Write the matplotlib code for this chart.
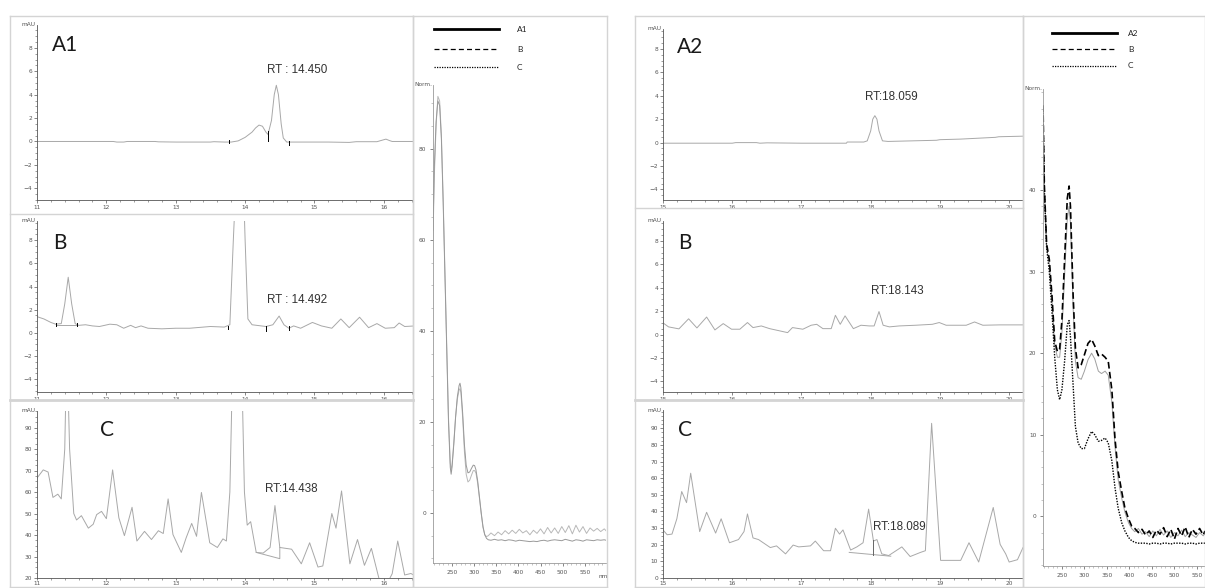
import matplotlib
matplotlib.use("Agg")
import matplotlib.pyplot as plt
from matplotlib.lines import Line2D
from matplotlib.ticker import MultipleLocator, FixedLocator

# ---------------- data ----------------
# Left group chromatograms (time [min], signal [mAU])
a1_t = [11.0, 12.1, 12.15, 12.25, 12.3, 12.7, 12.75, 13.0, 13.5, 13.55, 13.7, 13.8, 13.9, 14.0, 14.1, 14.15,
        14.2, 14.25, 14.3, 14.33, 14.38, 14.42, 14.45, 14.48, 14.52, 14.55, 14.6, 15.2, 15.5, 15.6, 15.9,
        15.97, 16.03, 16.08, 16.12, 16.45]
a1_v = [0.0, 0.0, -0.05, -0.05, 0.0, 0.0, -0.03, -0.05, -0.05, -0.02, -0.05, -0.05, 0.05, 0.35, 0.8, 1.15,
        1.4, 1.3, 0.8, 0.6, 1.8, 4.0, 4.8, 4.0, 1.5, 0.3, -0.05, -0.05, -0.08, -0.02, -0.02,
        0.1, 0.2, 0.08, 0.0, 0.0]

bL_t = [11.0, 11.1, 11.2, 11.27, 11.35, 11.4, 11.45, 11.5, 11.55, 11.6, 11.7, 11.8, 11.9, 12.05, 12.15, 12.25,
        12.35, 12.42, 12.5, 12.6, 12.8, 13.0, 13.2, 13.5, 13.7, 13.78, 13.83, 13.86, 13.98, 14.0, 14.04, 14.1,
        14.3, 14.4, 14.49, 14.56, 14.63, 14.7, 14.8, 14.97, 15.1, 15.25, 15.38, 15.5, 15.65, 15.78, 15.9,
        16.02, 16.15, 16.22, 16.3, 16.45]
bL_v = [1.4, 1.2, 0.9, 0.75, 0.8, 2.5, 4.8, 2.5, 0.8, 0.65, 0.7, 0.6, 0.55, 0.75, 0.7, 0.4,
        0.65, 0.45, 0.6, 0.4, 0.35, 0.4, 0.4, 0.55, 0.5, 0.7, 8.0, 12.0, 12.0, 8.0, 1.2, 0.7,
        0.55, 0.7, 1.45, 0.7, 0.4, 0.6, 0.4, 0.9, 0.6, 0.4, 1.2, 0.45, 1.35, 0.45, 0.8,
        0.4, 0.45, 0.85, 0.55, 0.6]

cL_t = [11.0, 11.09, 11.16, 11.23, 11.3, 11.35, 11.4, 11.43, 11.47, 11.53, 11.57, 11.64, 11.74, 11.81, 11.86,
        11.93, 12.0, 12.09, 12.18, 12.26, 12.37, 12.44, 12.55, 12.65, 12.75, 12.82, 12.89, 12.96, 13.08, 13.15,
        13.23, 13.3, 13.37, 13.49, 13.6, 13.68, 13.73, 13.78, 13.82, 13.95, 13.99, 14.03, 14.08, 14.16, 14.26,
        14.36, 14.43, 14.5, 14.67, 14.81, 14.93, 15.05, 15.12, 15.25, 15.31, 15.39, 15.51, 15.62, 15.72, 15.82,
        15.94, 16.04, 16.12, 16.2, 16.3, 16.39, 16.45]
cL_v = [66.5, 70.3, 69.3, 57.5, 59.0, 56.8, 80.0, 130.0, 80.0, 50.0, 47.0, 49.0, 43.2, 45.0, 49.5,
        51.0, 47.6, 70.3, 48.0, 39.7, 52.9, 37.2, 41.7, 37.9, 42.0, 40.7, 56.8, 40.2, 31.9, 38.7,
        45.4, 39.4, 59.8, 36.4, 34.2, 38.2, 37.2, 60.0, 120.0, 120.0, 60.0, 44.6, 46.2, 31.9, 31.6,
        34.2, 53.7, 34.2, 33.4, 26.6, 36.4, 25.1, 25.6, 50.0, 43.2, 60.5, 26.6, 37.9, 25.9, 33.8,
        18.4, 17.0, 22.0, 37.2, 21.4, 22.1, 21.0]

# Right group chromatograms
a2_t = [15.0, 16.0, 16.05, 16.35, 16.4, 16.5, 17.0, 17.65, 17.66, 17.9, 17.95, 18.0, 18.03, 18.06, 18.09,
        18.12, 18.17, 18.25, 18.6, 18.95, 19.0, 19.3, 19.8, 19.85, 20.2]
a2_v = [-0.05, -0.05, 0.0, 0.0, -0.05, -0.02, -0.05, -0.05, 0.05, 0.05, 0.15, 1.0, 2.0, 2.3, 2.0,
        1.0, 0.15, 0.1, 0.15, 0.2, 0.25, 0.3, 0.45, 0.5, 0.55]

bR_t = [15.0, 15.08, 15.23, 15.37, 15.49, 15.63, 15.75, 15.87, 15.99, 16.11, 16.22, 16.3, 16.42, 16.54, 16.8,
        16.87, 17.02, 17.14, 17.22, 17.31, 17.43, 17.49, 17.56, 17.63, 17.75, 17.86, 17.98, 18.05, 18.12,
        18.18, 18.27, 18.41, 18.65, 18.89, 18.99, 19.09, 19.38, 19.5, 19.62, 19.86, 20.2]
bR_v = [1.0, 0.66, 0.49, 1.35, 0.57, 1.5, 0.4, 0.94, 0.46, 0.46, 1.03, 0.6, 0.74, 0.51, 0.17,
        0.6, 0.46, 0.8, 0.88, 0.51, 0.51, 1.65, 0.88, 1.6, 0.51, 0.8, 0.74, 0.74, 1.97,
        0.8, 0.66, 0.74, 0.8, 0.88, 1.03, 0.8, 0.8, 1.08, 0.8, 0.83, 0.83]

cR_t = [15.0, 15.06, 15.13, 15.2, 15.27, 15.34, 15.4, 15.53, 15.63, 15.76, 15.84, 15.96, 16.09, 16.17, 16.22,
        16.3, 16.38, 16.55, 16.64, 16.77, 16.88, 16.96, 17.13, 17.2, 17.32, 17.42, 17.49, 17.55, 17.6, 17.71,
        17.8, 17.89, 17.97, 18.04, 18.09, 18.16, 18.26, 18.45, 18.57, 18.72, 18.79, 18.88, 19.01, 19.3, 19.42,
        19.56, 19.77, 19.87, 19.95, 20.0, 20.12, 20.2]
cR_v = [28.9, 26.0, 26.4, 35.6, 52.0, 45.3, 63.0, 27.9, 39.5, 27.0, 35.6, 21.2, 23.1, 27.9, 38.5,
        24.1, 23.1, 18.3, 19.3, 14.5, 19.8, 18.7, 19.3, 22.2, 16.4, 16.4, 29.9, 26.4, 28.9, 16.8,
        18.7, 21.2, 41.4, 22.2, 23.1, 14.5, 13.5, 18.7, 12.9, 15.4, 16.4, 93.0, 10.6, 10.6, 21.2,
        9.6, 42.4, 20.2, 14.5, 9.6, 11.0, 18.3]

# integration marks (time, y0, y1)
a1_marks = [(13.77, -0.15, 0.15), (14.33, 0.0, 0.9), (14.63, -0.3, 0.0)]
bL_marks = [(11.27, 0.55, 0.85), (11.57, 0.55, 0.85), (13.75, 0.35, 0.6), (14.3, 0.2, 0.55), (14.63, 0.25, 0.55)]
cL_base = ([14.16, 14.5, 14.5], [31.9, 29.0, 34.2])
cR_base = ([17.69, 18.29], [15.4, 13.1])
cR_drop = (18.04, 14.0, 23.0)

# Spectra (wavelength nm, normalised absorbance)
spL_wl = [207, 210, 214, 218, 222, 226, 230, 234, 238, 242, 246, 248, 250, 254, 258, 262, 266, 268, 270, 274,
          278, 282, 286, 290, 294, 298, 301, 304, 308, 312, 316, 320, 324, 328, 332, 338, 346, 354, 362, 370,
          378, 386, 394, 402, 410, 418, 426, 434, 442, 450, 458, 466, 474, 482, 490, 498, 506, 514, 522, 530,
          538, 546, 554, 562, 570, 578, 586, 594, 598]
spL_a1 = [62, 76, 86, 90.5, 89.5, 82, 68, 52, 36, 20, 10, 8.5, 10, 15, 21, 25.5, 28, 28.5, 27.5, 22,
          15, 10.5, 8.8, 9, 9.8, 10.5, 10.4, 9.5, 7, 3.5, 0, -3, -4.8, -5.6, -5.9, -6.0, -5.8, -6.0, -5.9, -6.1,
          -5.9, -6.0, -6.2, -6.0, -6.1, -6.2, -6.3, -6.2, -6.3, -6.1, -6.0, -6.2, -6.0, -5.9, -6.0, -6.1, -5.8, -6.0, -6.2, -5.9,
          -6.0, -6.2, -5.9, -6.0, -6.1, -5.9, -6.0, -5.9, -6.0]
spL_b = [60, 74, 85, 91.5, 90.5, 83, 69, 53, 37, 21, 11, 9.5, 10.5, 15.5, 21, 25, 27, 27.3, 26.5, 21,
         13.5, 8.5, 6.8, 7.2, 8.3, 9.3, 9.3, 8.8, 6.5, 3.2, -0.2, -3.2, -4.8, -5.2, -5.0, -4.4, -5.0, -4.2, -4.8, -3.9,
         -4.6, -3.8, -4.5, -3.6, -4.4, -3.9, -4.8, -3.8, -4.5, -3.5, -4.6, -3.2, -4.4, -3.3, -4.5, -3.0, -4.3, -2.8, -4.6, -2.7,
         -4.2, -3.0, -4.5, -3.3, -4.0, -3.4, -4.1, -3.5, -3.9]

spR_wl = [208, 211, 216, 222, 228, 234, 240, 245, 250, 256, 262, 266, 269, 275, 280, 286, 293, 300, 308, 316,
          323, 331, 338, 346, 353, 361, 368, 375, 383, 390, 398, 405, 412, 420, 428, 436, 444, 452, 460, 468,
          476, 484, 492, 500, 508, 516, 524, 532, 540, 548, 556, 564, 568]
spR_a2 = [50.0, 40.0, 33, 31, 26.5, 21, 19.5, 19.5, 22.5, 29.5, 36.5, 38.0, 36, 25.5, 19.0, 17.0, 16.8, 17.8, 19.2, 20.0,
          19.3, 17.8, 17.5, 17.8, 17.3, 14.0, 8.5, 4.5, 2.2, 0.5, -0.8, -1.5, -1.9, -1.5, -2.2, -1.9, -2.5, -1.8, -2.4, -1.6,
          -2.3, -1.8, -2.6, -2.0, -2.4, -1.7, -2.5, -2.0, -2.3, -2.6, -2.0, -2.4, -2.1]
spR_b = [50.4, 40.6, 33.4, 31.5, 27.0, 21.5, 20.2, 20.5, 24, 31.5, 39.0, 40.5, 38, 27, 20.6, 18.2, 18.6, 19.8, 21.2, 21.7,
         20.9, 19.7, 19.9, 19.5, 19.0, 15.5, 9.5, 5.5, 3.0, 1.0, -0.3, -1.2, -1.5, -2.0, -1.6, -2.3, -1.8, -2.6, -1.7, -2.2,
         -1.4, -2.5, -1.6, -2.8, -1.5, -2.4, -1.3, -2.6, -1.6, -2.2, -1.5, -2.3, -1.8]
spR_c = [49.5, 40.0, 33, 30, 25, 19.5, 15.5, 14.3, 15.5, 19.0, 23.5, 24.0, 22, 16, 11, 9.0, 8.3, 8.3, 9.5, 10.4,
         10.0, 9.2, 9.3, 9.6, 9.0, 6.8, 3.5, 1.0, -0.8, -1.8, -2.6, -3.0, -3.2, -3.3, -3.3, -3.3, -3.4, -3.3, -3.3, -3.4,
         -3.3, -3.3, -3.4, -3.3, -3.3, -3.3, -3.4, -3.3, -3.3, -3.4, -3.3, -3.3, -3.3]

rt_labels = ["RT : 14.450", "RT : 14.492", "RT:14.438", "RT:18.059", "RT:18.143", "RT:18.089"]
panel_labels = ["A1", "B", "C", "A2", "B", "C"]
legend_left = ["A1", "B", "C"]
legend_right = ["A2", "B", "C"]

# ---------------- layout helpers ----------------
W, H = 1205, 588
fig = plt.figure(figsize=(W / 100, H / 100), dpi=100)
fig.patch.set_facecolor("white")

def fx(x):
    return x / W

def fy(y):
    return 1 - y / H

def add_ax(l, t, r, b):
    return fig.add_axes([l / W, 1 - b / H, (r - l) / W, (b - t) / H])

FRAME = "#d4d4d4"
TRACE = "#a8a8a8"
AXC = "#555555"
RTSIZE = 8.4

def frame_line(x0, y0, x1, y1, lw=1.0):
    fig.add_artist(Line2D([fx(x0), fx(x1)], [fy(y0), fy(y1)], transform=fig.transFigure,
                          color=FRAME, lw=lw))

def box(l, t, r, b):
    frame_line(l, t, r, t)
    frame_line(l, b, r, b)
    frame_line(l, t, l, b)
    frame_line(r, t, r, b)

# frames
box(10, 16, 413, 587)
frame_line(10, 214, 413, 214)
frame_line(10, 400, 413, 400, lw=2)
box(413, 16, 607, 587)
box(635, 16, 1023, 587)
frame_line(635, 208, 1023, 208)
frame_line(635, 400, 1023, 400, lw=2)
box(1023, 16, 1205, 587)

def style_chrom(ax, xlim, ylim, ymajor, yminor, xmajor_vals, xpad=1.2):
    ax.set_xlim(*xlim)
    ax.set_ylim(*ylim)
    ax.patch.set_alpha(0)
    for s in ["top", "right"]:
        ax.spines[s].set_visible(False)
    for s in ["left", "bottom"]:
        ax.spines[s].set_color(AXC)
        ax.spines[s].set_linewidth(0.6)
    ax.xaxis.set_major_locator(FixedLocator(xmajor_vals))
    ax.xaxis.set_minor_locator(MultipleLocator(0.2))
    ax.yaxis.set_major_locator(FixedLocator(ymajor))
    ax.yaxis.set_minor_locator(MultipleLocator(yminor))
    ax.tick_params(which="major", length=2.2, width=0.5, labelsize=4.2, colors=AXC, pad=1.2)
    ax.tick_params(axis="x", which="major", pad=xpad)
    ax.tick_params(which="minor", length=1.3, width=0.4, colors=AXC)
    ax.set_xticklabels([f"{v:g}" for v in xmajor_vals])
    ax.text(-0.004, 1.0, "mAU", transform=ax.transAxes, ha="right", va="center", fontsize=4.2, color=AXC)

def draw_marks(ax, marks):
    for (t, y0, y1) in marks:
        ax.plot([t, t], [y0, y1], color="black", lw=0.7)

def rt_text(ax, x, y, s):
    ax.text(x, y, s, fontsize=RTSIZE, family="Liberation Sans", color="#333", va="center")

# ---------------- left chromatograms ----------------
axA1 = add_ax(37, 25, 413, 200)
axA1.plot(a1_t, a1_v, color=TRACE, lw=0.7)
draw_marks(axA1, a1_marks)
style_chrom(axA1, (11, 16.42), (-5, 9.95), [-4, -2, 0, 2, 4, 6, 8], 0.5, [11, 12, 13, 14, 15, 16])
rt_text(axA1, 14.32, 6.1, rt_labels[0])

axBL = add_ax(37, 221, 413, 392)
axBL.plot(bL_t, bL_v, color=TRACE, lw=0.7)
axBL.plot([11.27, 11.57], [0.7, 0.7], color=TRACE, lw=0.7)
draw_marks(axBL, bL_marks)
style_chrom(axBL, (11, 16.42), (-5.1, 9.65), [-4, -2, 0, 2, 4, 6, 8], 0.5, [11, 12, 13, 14, 15, 16])
rt_text(axBL, 14.32, 2.85, rt_labels[1])

axCL = add_ax(37, 411, 413, 578)
axCL.plot(cL_t, cL_v, color=TRACE, lw=0.7)
axCL.plot(cL_base[0], cL_base[1], color=TRACE, lw=0.7)
style_chrom(axCL, (11, 16.42), (20, 97.7), [20, 30, 40, 50, 60, 70, 80, 90], 2.5,
            [11, 12, 13, 14, 15, 16], xpad=0.4)
axCL.tick_params(axis="x", which="major", length=1.5)
rt_text(axCL, 14.28, 61.6, rt_labels[2])

# ---------------- right chromatograms ----------------
axA2 = add_ax(663, 29, 1023, 200)
axA2.plot(a2_t, a2_v, color=TRACE, lw=0.7)
style_chrom(axA2, (15, 20.2), (-4.9, 9.7), [-4, -2, 0, 2, 4, 6, 8], 0.5, [15, 16, 17, 18, 19, 20])
rt_text(axA2, 17.92, 3.9, rt_labels[3])

axBR = add_ax(663, 221, 1023, 392)
axBR.plot(bR_t, bR_v, color=TRACE, lw=0.7)
style_chrom(axBR, (15, 20.2), (-4.9, 9.7), [-4, -2, 0, 2, 4, 6, 8], 0.5, [15, 16, 17, 18, 19, 20])
rt_text(axBR, 18.0, 3.7, rt_labels[4])

axCR = add_ax(663, 410, 1023, 578)
axCR.plot(cR_t, cR_v, color=TRACE, lw=0.7)
axCR.plot(cR_base[0], cR_base[1], color=TRACE, lw=0.7)
axCR.plot([cR_drop[0], cR_drop[0]], [cR_drop[1], cR_drop[2]], color="#666", lw=0.7)
style_chrom(axCR, (15, 20.2), (0, 101), [0, 10, 20, 30, 40, 50, 60, 70, 80, 90], 2.5,
            [15, 16, 17, 18, 19, 20], xpad=0.4)
axCR.tick_params(axis="x", which="major", length=1.5)
rt_text(axCR, 18.03, 30.6, rt_labels[5])

# panel labels
for (x, y), lab in zip([(52, 45), (53, 243), (100, 430), (677, 47), (678, 243), (678, 430)], panel_labels):
    fig.text(fx(x), fy(y), lab, fontsize=15, family="Lato", ha="left", va="center", color="#1a1a1a")

# ---------------- spectra ----------------
def style_spec(ax, xlim, ylim, ymajor, yminor):
    ax.set_xlim(*xlim)
    ax.set_ylim(*ylim)
    ax.patch.set_alpha(0)
    for s in ["top", "right"]:
        ax.spines[s].set_visible(False)
    for s in ["left", "bottom"]:
        ax.spines[s].set_color("#9a9a9a")
        ax.spines[s].set_linewidth(0.6)
    ax.xaxis.set_major_locator(FixedLocator([250, 300, 350, 400, 450, 500, 550]))
    ax.xaxis.set_minor_locator(MultipleLocator(10))
    ax.yaxis.set_major_locator(FixedLocator(ymajor))
    ax.yaxis.set_minor_locator(MultipleLocator(yminor))
    ax.tick_params(which="major", length=2.2, width=0.5, labelsize=4.2, colors=AXC, pad=2.5)
    ax.tick_params(which="minor", length=1.5, width=0.4, colors="#9a9a9a")
    ax.text(-0.004, 1.0, "Norm.", transform=ax.transAxes, ha="right", va="center", fontsize=4.2, color=AXC)

axSL = add_ax(433, 85, 606, 563)
axSL.plot(spL_wl, spL_b, color="#b8b8b8", lw=0.7)
axSL.plot(spL_wl, spL_a1, color="#999999", lw=0.7)
style_spec(axSL, (207, 598), (-11, 94), [0, 20, 40, 60, 80], 5)
fig.text(fx(603), fy(577), "nm", fontsize=4.2, color=AXC, ha="center", va="center")

axSR = add_ax(1043, 89, 1205, 566)
axSR.plot(spR_wl, spR_a2, color="#a0a0a0", lw=0.7)
axSR.plot(spR_wl, spR_c, color="black", lw=1.0, linestyle=(0, (1, 1)))
axSR.plot(spR_wl, spR_b, color="black", lw=1.2, linestyle=(0, (4, 2)))
style_spec(axSR, (208, 568), (-6.1, 52.4), [0, 10, 20, 30, 40], 2)

# legends (drawn above the spectrum axes)
styles = [dict(lw=2.0, linestyle="-"), dict(lw=0.9, linestyle=(0, (4, 2.5))), dict(lw=0.9, linestyle=(0, (1, 1)))]
for (x0, x1, xt, ys, labels) in [(434, 499, 517, [29, 49, 67], legend_left),
                                 (1052, 1117, 1128, [33, 49, 66], legend_right)]:
    for y, st, lab in zip(ys, styles, labels):
        fig.add_artist(Line2D([fx(x0), fx(x1)], [fy(y), fy(y)], transform=fig.transFigure,
                              color="black", **st))
        fig.text(fx(xt), fy(y), lab, fontsize=6, family="Lato", ha="left", va="center", color="#222")

fig.savefig("out.png", dpi=100, facecolor="white")
